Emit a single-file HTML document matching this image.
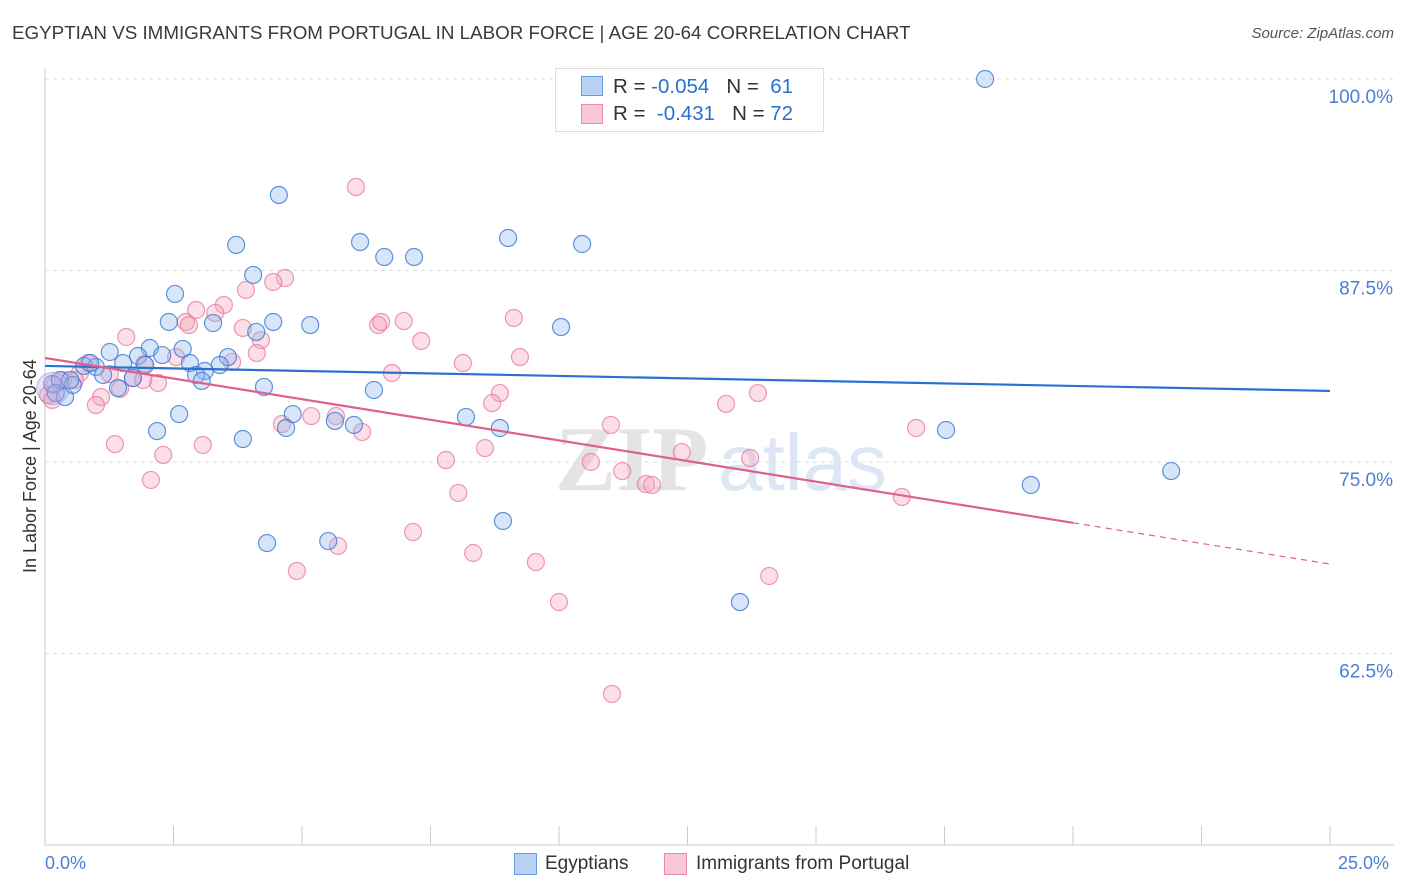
<!DOCTYPE html>
<html><head><meta charset="utf-8">
<style>
body{margin:0;background:#fff;font-family:"Liberation Sans",sans-serif;}
#wrap{position:relative;width:1406px;height:892px;overflow:hidden;}
.t{position:absolute;white-space:nowrap;}
</style></head><body>
<div id="wrap">
<div class="t" style="left:12px;top:22px;font-size:18.8px;color:#3a3a3a;">EGYPTIAN VS IMMIGRANTS FROM PORTUGAL IN LABOR FORCE | AGE 20-64 CORRELATION CHART</div>
<div class="t" style="right:12px;top:25px;font-size:15px;font-style:italic;color:#555;">Source: ZipAtlas.com</div>
<svg id="svg" width="1406" height="892" style="position:absolute;left:0;top:0"></svg>
</div>
<script>
const blueX=[18.29,4.55,3.72,6.13,9.01,10.45,6.60,7.18,4.05,2.53,2.41,3.27,4.44,5.16,10.04,4.11,2.68,2.04,1.26,1.81,2.28,3.56,2.82,3.40,1.52,0.76,0.99,3.11,1.13,2.94,3.05,1.71,1.42,4.26,6.40,0.39,0.14,0.29,0.54,2.61,4.82,8.19,5.64,6.01,4.69,8.85,2.18,17.53,3.85,21.91,19.18,8.91,4.32,5.51,13.52,0.21,0.49,0.88,1.95];
const blueY=[100.0,92.43,89.17,89.36,89.62,89.23,88.38,88.38,87.21,85.97,84.14,84.07,84.14,83.94,83.81,83.49,82.38,82.44,82.18,81.92,81.98,81.85,81.46,81.33,81.46,81.27,81.20,80.94,80.68,80.68,80.29,80.48,79.83,79.90,79.70,79.24,80.09,80.35,80.03,78.13,78.13,77.94,77.68,77.42,77.22,77.22,77.02,77.09,76.50,74.41,73.50,71.15,69.71,69.84,65.86,79.50,80.35,81.46,81.33];
const pinkX=[6.05,4.67,4.44,3.91,3.48,3.31,2.94,2.74,2.80,3.85,1.58,4.20,6.48,6.54,6.98,9.12,7.32,4.12,8.13,9.24,2.55,3.64,0.84,1.93,0.68,1.26,1.71,6.75,2.20,1.91,1.46,8.85,13.87,1.09,0.99,13.25,8.70,5.18,5.66,4.61,11.01,6.17,16.95,1.36,3.07,8.56,12.39,2.30,7.80,10.62,13.72,11.23,11.69,11.81,2.06,8.04,16.67,7.16,5.70,8.33,9.55,4.90,14.09,10.00,11.03,0.19,0.06,0.35,0.58,0.14];
const pinkY=[92.95,87.01,86.75,86.23,85.25,84.73,84.92,84.14,83.94,83.75,83.16,82.96,83.94,84.14,84.20,84.40,82.90,82.11,81.46,81.85,81.85,81.53,81.46,81.40,80.81,80.74,80.48,80.81,80.16,80.35,79.77,79.50,79.50,79.24,78.72,78.79,78.85,78.00,78.00,77.48,77.42,76.96,77.22,76.17,76.11,75.91,75.65,75.46,75.13,75.00,75.26,74.41,73.56,73.50,73.83,72.98,72.72,70.43,69.52,69.06,68.47,67.89,67.56,65.86,59.86,80.03,79.37,80.35,80.35,79.05];
const blueTrend=[81.27,79.64];
const pinkTrend=[81.79,68.34];
const yTicks=[100,87.5,75,62.5];
const yTickLabels=["100.0%","87.5%","75.0%","62.5%"];
const xTickVals=[0,2.5,5,7.5,10,12.5,15,17.5,20,22.5,25];

const X0=45,X1=1330,Y0=79,Y1=845;
const sx=v=>X0+(v/25)*(X1-X0);
const sy=v=>Y0+(100-v)/50*(Y1-Y0);
const svg=document.getElementById('svg');
const NS='http://www.w3.org/2000/svg';
function mk(tag,attrs,parent){const e=document.createElementNS(NS,tag);for(const k in attrs)e.setAttribute(k,attrs[k]);(parent||svg).appendChild(e);return e;}

yTicks.forEach((v,i)=>{
  const g=mk('line',{x1:X0,x2:1394,y1:sy(v),y2:sy(v),stroke:'#ddd','stroke-dasharray':'4,4'});
  
  
  const t=mk('text',{x:1393,y:sy(v)+24,'text-anchor':'end','font-size':19,fill:'#4a7fd4','font-family':'Liberation Sans,sans-serif'});
  t.textContent=yTickLabels[i];
  
  
});
const ya=mk('line',{x1:X0,x2:X0,y1:68,y2:Y1,stroke:'#ccc'});


const xa=mk('line',{x1:X0,x2:1394,y1:Y1,y2:Y1,stroke:'#ccc'});


xTickVals.forEach(v=>{
  const t=mk('line',{x1:sx(v),x2:sx(v),y1:826,y2:Y1,stroke:'#ccc'});
  
  
});
const wm=mk('text',{x:555,y:490,'font-size':92,fill:'#e4e4e4','font-family':'Liberation Serif,serif','font-weight':'bold'});
wm.textContent='ZIP';


const wm2=mk('text',{x:718,y:490,'font-size':80,fill:'#dde6f4','font-family':'Liberation Sans,sans-serif'});
wm2.textContent='atlas';



function pts(xs,ys,fill,stroke,name){
  xs.forEach((x,i)=>{
    const c=mk('circle',{cx:sx(x),cy:sy(ys[i]),r:8.5,fill:fill,stroke:stroke,'stroke-width':1.2});
    
    
  });
}
pts(pinkX,pinkY,'rgba(244,160,185,0.35)','rgba(230,120,155,0.75)','portugal-point');
pts(blueX,blueY,'rgba(140,180,235,0.35)','rgba(60,120,210,0.8)','egyptian-point');
const bc=mk('circle',{cx:sx(0.15),cy:sy(79.8),r:16,fill:'rgba(190,170,225,0.35)',stroke:'rgba(150,140,210,0.6)'});



const bl=mk('line',{x1:sx(0),y1:sy(blueTrend[0]),x2:sx(25),y2:sy(blueTrend[1]),stroke:'#2a70d0','stroke-width':2.2});


const pAt=x=>pinkTrend[0]+(pinkTrend[1]-pinkTrend[0])*x/25;
const pl=mk('line',{x1:sx(0),y1:sy(pAt(0)),x2:sx(20),y2:sy(pAt(20)),stroke:'#e0608d','stroke-width':2.2});


const pd=mk('line',{x1:sx(20),y1:sy(pAt(20)),x2:sx(25),y2:sy(pAt(25)),stroke:'#e0608d','stroke-width':1.2,'stroke-dasharray':'6,5'});


</script>
<div class="t" style="left:20px;top:573px;transform:rotate(-90deg);transform-origin:0 0;font-size:18px;color:#333;">In Labor Force | Age 20-64</div>
<div class="t" style="left:45px;top:853px;font-size:18px;color:#4a7fd4;">0.0%</div>
<div class="t" style="left:1338px;top:853px;font-size:18px;color:#4a7fd4;">25.0%</div>
<div style="position:absolute;left:555px;top:68px;width:267px;height:62px;border:1px solid #ddd;background:#fff;font-size:20.5px;">
 <div style="position:absolute;left:25px;top:7px;width:20px;height:18px;background:#b9d2f4;border:1px solid #6a9ae0;"></div>
 <div class="t" style="left:57px;top:6px;color:#333;">R = <span style="color:#2a70d0">-0.054</span>&nbsp;&nbsp;&nbsp;N = &nbsp;<span style="color:#2a70d0">61</span></div>
 <div style="position:absolute;left:25px;top:35px;width:20px;height:18px;background:#f8c6d6;border:1px solid #e88aa8;"></div>
 <div class="t" style="left:57px;top:33px;color:#333;">R = &nbsp;<span style="color:#2a70d0">-0.431</span>&nbsp;&nbsp;&nbsp;N = <span style="color:#2a70d0">72</span></div>
</div>
<div style="position:absolute;left:514px;top:853px;width:21px;height:20px;background:#b9d2f4;border:1px solid #6a9ae0;"></div>
<div class="t" style="left:545px;top:853px;font-size:19px;color:#333;">Egyptians</div>
<div style="position:absolute;left:664px;top:853px;width:21px;height:20px;background:#f8c6d6;border:1px solid #e88aa8;"></div>
<div class="t" style="left:696px;top:853px;font-size:19px;color:#333;">Immigrants from Portugal</div>
</body></html>
